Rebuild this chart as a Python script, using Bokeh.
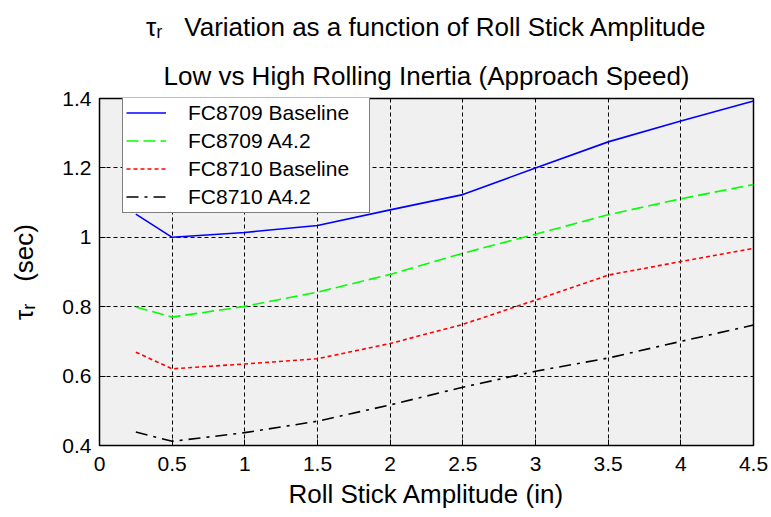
from bokeh.plotting import figure
from bokeh.models import (Range1d, FixedTicker, CustomJSTickFormatter, Title,
                          Legend, LegendItem)
from bokeh.embed import file_html
from bokeh.resources import INLINE

# Roll stick amplitude (in) and roll mode time constant tau_r (sec)
amplitude = [0.25, 0.5, 1.0, 1.5, 2.0, 2.5, 3.0, 3.5, 4.0, 4.5]
fc8709_baseline = [1.067, 1.000, 1.014, 1.034, 1.079, 1.123, 1.200, 1.275, 1.335, 1.393]
fc8709_a42 = [0.799, 0.770, 0.801, 0.842, 0.893, 0.954, 1.009, 1.065, 1.111, 1.152]
fc8710_baseline = [0.669, 0.621, 0.635, 0.650, 0.694, 0.749, 0.819, 0.891, 0.930, 0.968]
fc8710_a42 = [0.439, 0.412, 0.437, 0.470, 0.517, 0.568, 0.614, 0.652, 0.700, 0.747]

series_names = ["FC8709 Baseline", "FC8709 A4.2", "FC8710 Baseline", "FC8710 A4.2"]
series_values = [fc8709_baseline, fc8709_a42, fc8710_baseline, fc8710_a42]
series_colors = ["#0000ff", "#00ff00", "#ff0000", "#000000"]
series_dashes = ["solid", "12 5", "4 3", "12 6 3 6"]

x_ticks = [0, 0.5, 1, 1.5, 2, 2.5, 3, 3.5, 4, 4.5]
y_ticks = [0.4, 0.6, 0.8, 1, 1.2, 1.4]

title_line1 = "\u03c4\u1d63\u00a0\u00a0\u00a0Variation as a function of Roll Stick Amplitude"
title_line2 = "Low vs High Rolling Inertia (Approach Speed)"
x_label = "Roll Stick Amplitude (in)"
y_label = "\u03c4\u1d63\u00a0\u00a0\u00a0(sec)"

FONT = "Liberation Sans"

p = figure(width=771, height=517, output_backend="svg", toolbar_location=None,
           title=None,
           x_range=Range1d(0, 4.5), y_range=Range1d(0.4, 1.4),
           min_border_left=99, min_border_right=18,
           min_border_top=98, min_border_bottom=72)

p.background_fill_color = "#f0f0f0"
p.border_fill_color = "white"
p.outline_line_color = "black"
p.outline_line_width = 1.5

fmt = CustomJSTickFormatter(code="return tick.toString();")

for ax, ticks in ((p.xaxis[0], x_ticks), (p.yaxis[0], y_ticks)):
    ax.ticker = FixedTicker(ticks=ticks)
    ax.formatter = fmt
    ax.major_tick_in = 6
    ax.major_tick_out = 0
    ax.minor_tick_in = 0
    ax.minor_tick_out = 0
    ax.axis_line_color = "black"
    ax.major_tick_line_color = "black"
    ax.major_label_text_font = FONT
    ax.major_label_text_font_size = "21px"
    ax.major_label_text_color = "black"
    ax.axis_label_text_font = FONT
    ax.axis_label_text_font_style = "normal"
    ax.axis_label_text_color = "black"
    ax.axis_label_text_font_size = "26px"

p.xaxis.major_label_standoff = 11
p.yaxis.major_label_standoff = 8
p.xaxis.axis_label = x_label
p.xaxis.axis_label_standoff = 5
p.yaxis.axis_label = y_label
p.yaxis.axis_label_standoff = 20

p.xgrid.ticker = FixedTicker(ticks=x_ticks)
p.ygrid.ticker = FixedTicker(ticks=y_ticks)
for g in (p.xgrid[0], p.ygrid[0]):
    g.grid_line_color = "black"
    g.grid_line_dash = "4 3"
    g.grid_line_width = 1

items = []
for name, vals, color, dash in zip(series_names, series_values, series_colors, series_dashes):
    r = p.line(amplitude, vals, line_color=color, line_width=1.6, line_dash=dash)
    items.append(LegendItem(label=name, renderers=[r]))

legend = Legend(items=items, location=(23, 232),
                border_line_color="black", border_line_width=1,
                background_fill_color="white", background_fill_alpha=1.0,
                padding=3, spacing=3, glyph_width=40, glyph_height=25,
                label_height=25, label_width=178, label_standoff=22,
                label_text_font=FONT, label_text_font_size="21px",
                label_text_color="black")
p.add_layout(legend)

# Two-line title: the line added first sits closest to the plot
p.add_layout(Title(text=title_line2, align="center", vertical_align="top",
                   text_font=FONT, text_font_size="26px", text_font_style="normal",
                   text_color="black", standoff=12), "above")
p.add_layout(Title(text=title_line1, align="center", vertical_align="top",
                   text_font=FONT, text_font_size="26px", text_font_style="normal",
                   text_color="black", standoff=22), "above")

open("out.html", "w").write(file_html(p, INLINE))
